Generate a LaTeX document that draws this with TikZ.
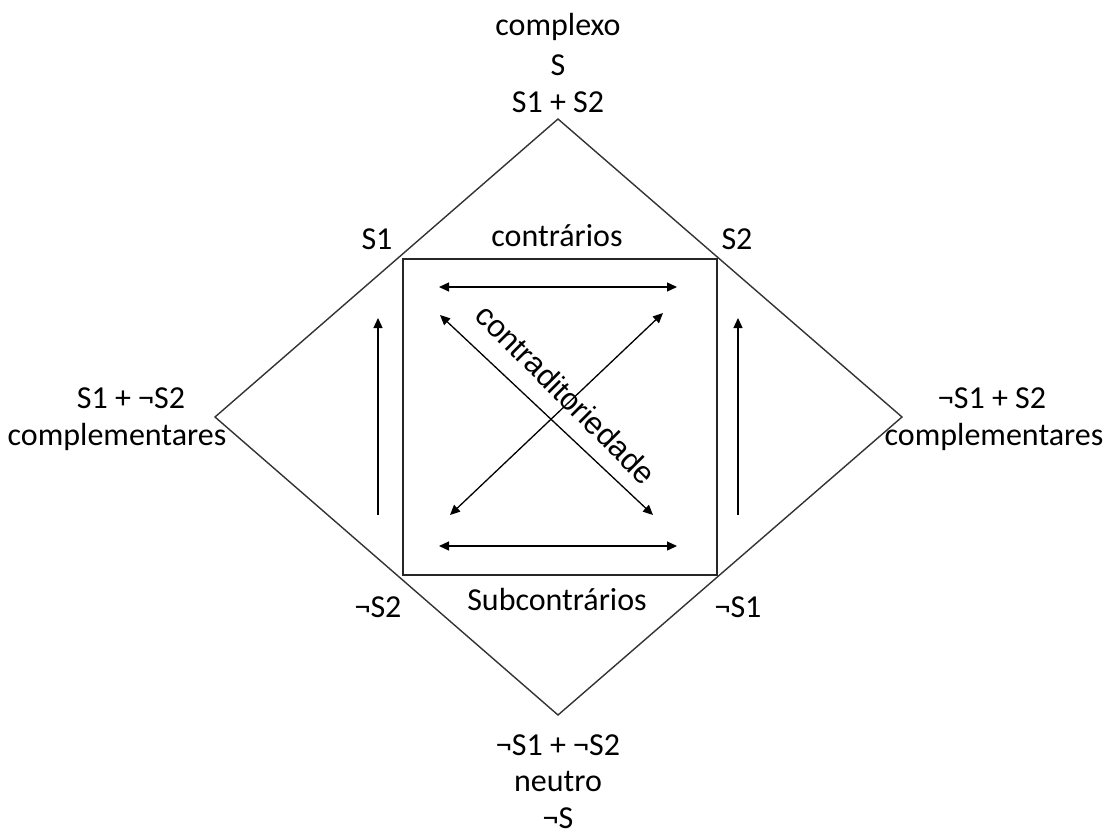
\documentclass[tikz,border=0pt]{standalone}
\usepackage{fontspec}
\setmainfont{Carlito}
\newfontfamily\arialf{Liberation Sans}
\usetikzlibrary{arrows.meta}
\begin{document}
\begin{tikzpicture}[x=1pt,y=-1pt,
  lbl/.style={font=\fontsize{32}{37}\selectfont, inner sep=0pt, align=center},
  edge/.style={line width=1.4pt, draw=black!80},
  box/.style={line width=1.8pt, draw=black!85},
  arr/.style={line width=1.3pt, {Triangle[length=10pt,width=9pt]}-{Triangle[length=10pt,width=9pt]}},
  uarr/.style={line width=1.3pt, -{Triangle[length=10pt,width=9pt]}}
]
\useasboundingbox (0,0) rectangle (1107,830);
% diamond
\coordinate (T) at (558,119);
\coordinate (L) at (215,417);
\coordinate (R) at (902,417);
\coordinate (B) at (558,715);
\draw[edge] (T) -- (R) -- (B) -- (L) -- cycle;
% square
\coordinate (q1) at (403,259);
\coordinate (q2) at (717,575);
\draw[box] (q1) rectangle (q2);
% horizontal arrows
\coordinate (h1a) at (439,287); \coordinate (h1b) at (677,287);
\coordinate (h2a) at (439,546); \coordinate (h2b) at (677,546);
\draw[arr] (h1a) -- (h1b);
\draw[arr] (h2a) -- (h2b);
% diagonals
\coordinate (d1a) at (440,315); \coordinate (d1b) at (653,515);
\coordinate (d2a) at (663,313); \coordinate (d2b) at (450,515);
\draw[arr] (d1a) -- (d1b);
\draw[arr] (d2a) -- (d2b);
% vertical arrows
\coordinate (v1a) at (378,515); \coordinate (v1b) at (378,318);
\coordinate (v2a) at (738,515); \coordinate (v2b) at (738,318);
\draw[uarr] (v1a) -- (v1b);
\draw[uarr] (v2a) -- (v2b);
% labels
\node[lbl] (top1) at (558,27) {complexo};
\node[lbl] (top2) at (558,65) {S};
\node[lbl] (top3) at (558,102) {S1 + S2};
\node[lbl] (s1) at (377,239) {S1};
\node[lbl] (s2) at (737,239) {S2};
\node[lbl] (contr) at (557,236) {contrários};
\node[lbl] (l1) at (131,398) {S1 + ¬S2};
\node[lbl] (l2) at (117,437) {complementares};
\node[lbl] (r1) at (992,398) {¬S1 + S2};
\node[lbl] (r2) at (994,437) {complementares};
\node[lbl] (ns2) at (378,607) {¬S2};
\node[lbl] (ns1) at (738,607) {¬S1};
\node[lbl] (sub) at (557,599) {Subcontrários};
\node[lbl] (b1) at (558,745) {¬S1 + ¬S2};
\node[lbl] (b2) at (558,781) {neutro};
\node[lbl] (b3) at (558,818) {¬S};
\node[lbl, font=\arialf\fontsize{31}{36}\selectfont, rotate=-45] (cd) at (566,394) {contraditoriedade};
\end{tikzpicture}
\end{document}
